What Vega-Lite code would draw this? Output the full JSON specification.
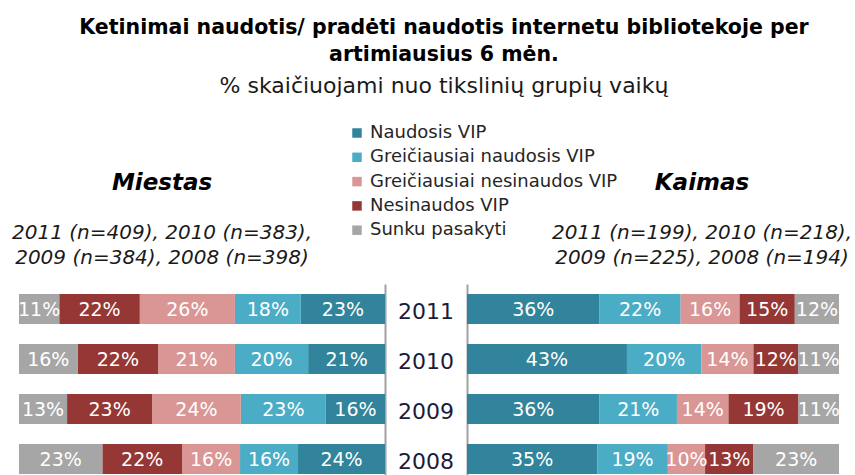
{
  "$schema": "https://vega.github.io/schema/vega-lite/v6.json",
  "padding": {"left": 11, "top": 17, "right": 0, "bottom": 0},
  "background": "white",
  "title": {
    "text": ["Ketinimai naudotis/ pradėti naudotis internetu bibliotekoje per", "artimiausius 6 mėn."],
    "subtitle": "% skaičiuojami nuo tikslinių grupių vaikų",
    "anchor": "middle",
    "font": "DejaVu Sans",
    "fontSize": 20.5,
    "fontWeight": "bold",
    "color": "#000000",
    "lineHeight": 27,
    "subtitleFont": "DejaVu Sans",
    "subtitleFontSize": 22,
    "subtitleColor": "#1a1a1a",
    "subtitlePadding": 11,
    "dx": 12,
    "offset": 27
  },
  "data": {
    "values": [
      {"area": "Miestas", "year": "2011", "i": 1, "cat": "Naudosis VIP", "v": 0.23},
      {"area": "Miestas", "year": "2011", "i": 2, "cat": "Greičiausiai naudosis VIP", "v": 0.18},
      {"area": "Miestas", "year": "2011", "i": 3, "cat": "Greičiausiai nesinaudos VIP", "v": 0.26},
      {"area": "Miestas", "year": "2011", "i": 4, "cat": "Nesinaudos VIP", "v": 0.22},
      {"area": "Miestas", "year": "2011", "i": 5, "cat": "Sunku pasakyti", "v": 0.11},
      {"area": "Miestas", "year": "2010", "i": 1, "cat": "Naudosis VIP", "v": 0.21},
      {"area": "Miestas", "year": "2010", "i": 2, "cat": "Greičiausiai naudosis VIP", "v": 0.20},
      {"area": "Miestas", "year": "2010", "i": 3, "cat": "Greičiausiai nesinaudos VIP", "v": 0.21},
      {"area": "Miestas", "year": "2010", "i": 4, "cat": "Nesinaudos VIP", "v": 0.22},
      {"area": "Miestas", "year": "2010", "i": 5, "cat": "Sunku pasakyti", "v": 0.16},
      {"area": "Miestas", "year": "2009", "i": 1, "cat": "Naudosis VIP", "v": 0.16},
      {"area": "Miestas", "year": "2009", "i": 2, "cat": "Greičiausiai naudosis VIP", "v": 0.23},
      {"area": "Miestas", "year": "2009", "i": 3, "cat": "Greičiausiai nesinaudos VIP", "v": 0.24},
      {"area": "Miestas", "year": "2009", "i": 4, "cat": "Nesinaudos VIP", "v": 0.23},
      {"area": "Miestas", "year": "2009", "i": 5, "cat": "Sunku pasakyti", "v": 0.13},
      {"area": "Miestas", "year": "2008", "i": 1, "cat": "Naudosis VIP", "v": 0.24},
      {"area": "Miestas", "year": "2008", "i": 2, "cat": "Greičiausiai naudosis VIP", "v": 0.16},
      {"area": "Miestas", "year": "2008", "i": 3, "cat": "Greičiausiai nesinaudos VIP", "v": 0.16},
      {"area": "Miestas", "year": "2008", "i": 4, "cat": "Nesinaudos VIP", "v": 0.22},
      {"area": "Miestas", "year": "2008", "i": 5, "cat": "Sunku pasakyti", "v": 0.23},
      {"area": "Kaimas", "year": "2011", "i": 1, "cat": "Naudosis VIP", "v": 0.36},
      {"area": "Kaimas", "year": "2011", "i": 2, "cat": "Greičiausiai naudosis VIP", "v": 0.22},
      {"area": "Kaimas", "year": "2011", "i": 3, "cat": "Greičiausiai nesinaudos VIP", "v": 0.16},
      {"area": "Kaimas", "year": "2011", "i": 4, "cat": "Nesinaudos VIP", "v": 0.15},
      {"area": "Kaimas", "year": "2011", "i": 5, "cat": "Sunku pasakyti", "v": 0.12},
      {"area": "Kaimas", "year": "2010", "i": 1, "cat": "Naudosis VIP", "v": 0.43},
      {"area": "Kaimas", "year": "2010", "i": 2, "cat": "Greičiausiai naudosis VIP", "v": 0.20},
      {"area": "Kaimas", "year": "2010", "i": 3, "cat": "Greičiausiai nesinaudos VIP", "v": 0.14},
      {"area": "Kaimas", "year": "2010", "i": 4, "cat": "Nesinaudos VIP", "v": 0.12},
      {"area": "Kaimas", "year": "2010", "i": 5, "cat": "Sunku pasakyti", "v": 0.11},
      {"area": "Kaimas", "year": "2009", "i": 1, "cat": "Naudosis VIP", "v": 0.36},
      {"area": "Kaimas", "year": "2009", "i": 2, "cat": "Greičiausiai naudosis VIP", "v": 0.21},
      {"area": "Kaimas", "year": "2009", "i": 3, "cat": "Greičiausiai nesinaudos VIP", "v": 0.14},
      {"area": "Kaimas", "year": "2009", "i": 4, "cat": "Nesinaudos VIP", "v": 0.19},
      {"area": "Kaimas", "year": "2009", "i": 5, "cat": "Sunku pasakyti", "v": 0.11},
      {"area": "Kaimas", "year": "2008", "i": 1, "cat": "Naudosis VIP", "v": 0.35},
      {"area": "Kaimas", "year": "2008", "i": 2, "cat": "Greičiausiai naudosis VIP", "v": 0.19},
      {"area": "Kaimas", "year": "2008", "i": 3, "cat": "Greičiausiai nesinaudos VIP", "v": 0.10},
      {"area": "Kaimas", "year": "2008", "i": 4, "cat": "Nesinaudos VIP", "v": 0.13},
      {"area": "Kaimas", "year": "2008", "i": 5, "cat": "Sunku pasakyti", "v": 0.23}
    ]
  },
  "hconcat": [
    {
      "width": 366,
      "height": 200,
      "title": {
        "text": "Miestas",
        "subtitle": ["2011 (n=409), 2010 (n=383),", "2009 (n=384),  2008 (n=398)"],
        "anchor": "middle",
        "dx": -40,
        "font": "DejaVu Sans",
        "fontSize": 23,
        "fontStyle": "italic",
        "fontWeight": "bold",
        "color": "#000000",
        "subtitleFont": "DejaVu Sans",
        "subtitleFontSize": 20,
        "subtitleFontStyle": "italic",
        "subtitleColor": "#1a1a1a",
        "subtitleLineHeight": 25,
        "subtitlePadding": 28,
        "offset": 16
      },
      "transform": [
        {"filter": "datum.area == 'Miestas'"},
        {"stack": "v", "groupby": ["year"], "sort": [{"field": "i", "order": "ascending"}], "offset": "normalize", "as": ["x0", "x1"]}
      ],
      "encoding": {
        "y": {
          "field": "year", "type": "nominal",
          "scale": {"domain": ["2011", "2010", "2009", "2008"], "paddingInner": 0.4, "paddingOuter": 0.2},
          "axis": {"orient": "right", "labels": false, "ticks": false, "title": null, "domainColor": "#a0a0a0", "domainWidth": 2}
        }
      },
      "layer": [
        {
          "mark": {"type": "bar"},
          "encoding": {
            "x": {"field": "x0", "type": "quantitative", "scale": {"domain": [0, 1], "reverse": true, "nice": false}, "axis": null},
            "x2": {"field": "x1"},
            "color": {
              "field": "cat", "type": "nominal",
              "scale": {
                "domain": ["Naudosis VIP", "Greičiausiai naudosis VIP", "Greičiausiai nesinaudos VIP", "Nesinaudos VIP", "Sunku pasakyti"],
                "range": ["#31849B", "#4BACC6", "#D99694", "#953735", "#A6A6A6"]
              },
              "legend": {
                "orient": "none", "legendX": 329, "legendY": -160, "title": null,
                "symbolType": "square", "symbolSize": 90, "symbolStrokeWidth": 0,
                "labelFont": "DejaVu Sans", "labelFontSize": 18, "labelColor": "#262626",
                "labelLimit": 0, "labelOffset": 4, "rowPadding": 6.3, "padding": 0
              }
            }
          }
        },
        {
          "transform": [
            {"fold": ["x0", "x1"], "as": ["edge", "pos"]},
            {"aggregate": [{"op": "mean", "field": "pos", "as": "mid"}], "groupby": ["year", "cat", "v"]}
          ],
          "mark": {"type": "text", "color": "white", "font": "DejaVu Sans", "fontSize": 19, "align": "center", "baseline": "middle", "dy": 1},
          "encoding": {
            "x": {"field": "mid", "type": "quantitative"},
            "text": {"field": "v", "type": "quantitative", "format": ".0%"}
          }
        }
      ]
    },
    {
      "width": 82,
      "height": 200,
      "transform": [
        {"filter": "datum.area == 'Miestas' && datum.i == 1"}
      ],
      "mark": {"type": "text", "font": "DejaVu Sans", "fontSize": 22, "color": "#1c1c38", "align": "center", "baseline": "middle", "dy": 3},
      "encoding": {
        "y": {
          "field": "year", "type": "nominal",
          "scale": {"domain": ["2011", "2010", "2009", "2008"], "paddingInner": 0.4, "paddingOuter": 0.2},
          "axis": null
        },
        "text": {"field": "year", "type": "nominal"}
      }
    },
    {
      "width": 372,
      "height": 200,
      "title": {
        "text": "Kaimas",
        "subtitle": ["2011 (n=199), 2010 (n=218),", "2009 (n=225), 2008 (n=194)"],
        "anchor": "middle",
        "dx": 49,
        "font": "DejaVu Sans",
        "fontSize": 23,
        "fontStyle": "italic",
        "fontWeight": "bold",
        "color": "#000000",
        "subtitleFont": "DejaVu Sans",
        "subtitleFontSize": 20,
        "subtitleFontStyle": "italic",
        "subtitleColor": "#1a1a1a",
        "subtitleLineHeight": 25,
        "subtitlePadding": 28,
        "offset": 16
      },
      "transform": [
        {"filter": "datum.area == 'Kaimas'"},
        {"stack": "v", "groupby": ["year"], "sort": [{"field": "i", "order": "ascending"}], "offset": "normalize", "as": ["x0", "x1"]}
      ],
      "encoding": {
        "y": {
          "field": "year", "type": "nominal",
          "scale": {"domain": ["2011", "2010", "2009", "2008"], "paddingInner": 0.4, "paddingOuter": 0.2},
          "axis": {"orient": "left", "labels": false, "ticks": false, "title": null, "domainColor": "#a0a0a0", "domainWidth": 2}
        }
      },
      "layer": [
        {
          "mark": {"type": "bar"},
          "encoding": {
            "x": {"field": "x0", "type": "quantitative", "scale": {"domain": [0, 1], "nice": false}, "axis": null},
            "x2": {"field": "x1"},
            "color": {
              "field": "cat", "type": "nominal",
              "scale": {
                "domain": ["Naudosis VIP", "Greičiausiai naudosis VIP", "Greičiausiai nesinaudos VIP", "Nesinaudos VIP", "Sunku pasakyti"],
                "range": ["#31849B", "#4BACC6", "#D99694", "#953735", "#A6A6A6"]
              },
              "legend": {
                "orient": "none", "legendX": 329, "legendY": -160, "title": null,
                "symbolType": "square", "symbolSize": 90, "symbolStrokeWidth": 0,
                "labelFont": "DejaVu Sans", "labelFontSize": 18, "labelColor": "#262626",
                "labelLimit": 0, "labelOffset": 4, "rowPadding": 6.3, "padding": 0
              }
            }
          }
        },
        {
          "transform": [
            {"fold": ["x0", "x1"], "as": ["edge", "pos"]},
            {"aggregate": [{"op": "mean", "field": "pos", "as": "mid"}], "groupby": ["year", "cat", "v"]}
          ],
          "mark": {"type": "text", "color": "white", "font": "DejaVu Sans", "fontSize": 19, "align": "center", "baseline": "middle", "dy": 1},
          "encoding": {
            "x": {"field": "mid", "type": "quantitative"},
            "text": {"field": "v", "type": "quantitative", "format": ".0%"}
          }
        }
      ]
    }
  ],
  "spacing": 0,
  "bounds": "flush",
  "resolve": {"scale": {"color": "shared"}},
  "config": {
    "view": {"stroke": null},
    "axis": {"grid": false}
  }
}
